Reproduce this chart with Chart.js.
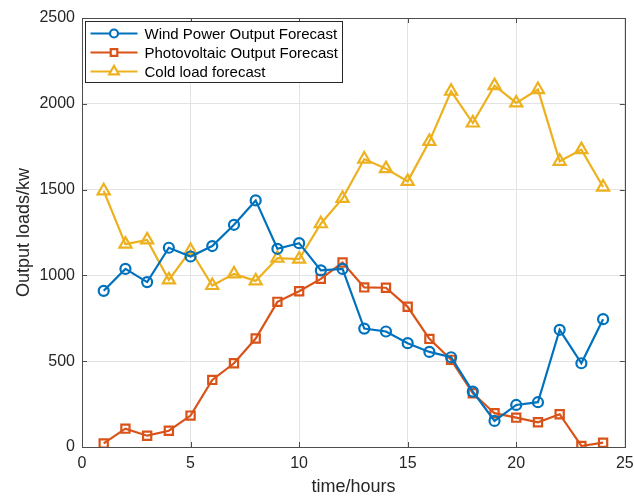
<!DOCTYPE html>
<html>
<head>
<meta charset="utf-8">
<script src="https://cdn.jsdelivr.net/npm/chart.js@4/dist/chart.umd.min.js"></script>
<style>
  html, body { margin: 0; padding: 0; background: #fff; }
  #wrap { width: 634px; height: 498px; }
</style>
</head>
<body>
<div id="wrap"><canvas id="chart" width="634" height="498"></canvas></div>
<script>
// values
const hours = [1, 2, 3, 4, 5, 6, 7, 8, 9, 10, 11, 12, 13, 14, 15, 16, 17, 18, 19, 20, 21, 22, 23, 24];
const windForecast = [910, 1038, 961, 1161, 1110, 1171, 1295, 1437, 1155, 1188, 1029, 1038, 690, 673, 605, 554, 523, 323, 152, 245, 261, 683, 488, 745];
const pvForecast = [21, 107, 66, 95, 183, 391, 488, 632, 846, 908, 980, 1075, 930, 928, 817, 630, 508, 313, 197, 171, 144, 191, 6, 25];
const coldLoad = [1493, 1182, 1207, 974, 1145, 941, 1009, 968, 1100, 1095, 1301, 1449, 1678, 1622, 1548, 1781, 2073, 1888, 2106, 2005, 2083, 1665, 1733, 1515];
const seriesNames = ['Wind Power Output Forecast', 'Photovoltaic Output Forecast', 'Cold load forecast'];
const xTicks = [0, 5, 10, 15, 20, 25];
const yTicks = [0, 500, 1000, 1500, 2000, 2500];

const FONT = '"Liberation Sans", Arial, Helvetica, sans-serif';
const AXIS_COLOR = '#4d4d4d';

const toPoints = (vals) => hours.map((h, i) => ({ x: h, y: vals[i] }));

const makeSet = (label, vals, color, style, radius) => ({
  label,
  data: toPoints(vals),
  borderColor: color,
  backgroundColor: 'rgba(0,0,0,0)',
  borderWidth: 2.2,
  pointStyle: style,
  pointRadius: radius,
  pointHoverRadius: radius,
  pointBorderWidth: 2.2,
  pointBorderColor: color,
  pointBackgroundColor: 'rgba(0,0,0,0)',
  tension: 0,
  fill: false
});

// box around plot area with inward ticks (matlab style)
const boxPlugin = {
  id: 'box',
  afterDatasetsDraw(chart) {
    const { ctx, chartArea: a, scales } = chart;
    ctx.save();
    ctx.strokeStyle = AXIS_COLOR;
    ctx.lineWidth = 1;
    ctx.strokeRect(Math.round(a.left) + 0.5, Math.round(a.top) + 0.5,
      Math.round(a.right - a.left), Math.round(a.bottom - a.top));
    const t = 5;
    ctx.beginPath();
    xTicks.forEach(v => {
      const x = Math.round(scales.x.getPixelForValue(v)) + 0.5;
      ctx.moveTo(x, a.bottom); ctx.lineTo(x, a.bottom - t);
      ctx.moveTo(x, a.top); ctx.lineTo(x, a.top + t);
    });
    yTicks.forEach(v => {
      const y = Math.round(scales.y.getPixelForValue(v)) + 0.5;
      ctx.moveTo(a.left, y); ctx.lineTo(a.left + t, y);
      ctx.moveTo(a.right, y); ctx.lineTo(a.right - t, y);
    });
    ctx.stroke();
    ctx.restore();
  }
};

// legend drawn inside the top-left corner
const legendPlugin = {
  id: 'insideLegend',
  afterDraw(chart) {
    const { ctx, chartArea: a } = chart;
    const x0 = Math.round(a.left) + 3.5, y0 = Math.round(a.top) + 3.5;
    const w = 257, h = 61, rowH = 19;
    ctx.save();
    ctx.fillStyle = '#fff';
    ctx.fillRect(x0, y0, w, h);
    ctx.strokeStyle = '#262626';
    ctx.lineWidth = 1;
    ctx.strokeRect(x0, y0, w, h);
    ctx.font = '15px ' + FONT;
    ctx.textBaseline = 'middle';
    chart.data.datasets.forEach((ds, i) => {
      const cy = y0 + 12 + i * rowH;
      ctx.strokeStyle = ds.borderColor;
      ctx.lineWidth = 2.2;
      ctx.beginPath();
      ctx.moveTo(x0 + 5, cy);
      ctx.lineTo(x0 + 52, cy);
      ctx.stroke();
      ctx.fillStyle = '#fff';
      Chart.helpers.drawPoint(ctx, {
        pointStyle: ds.pointStyle, rotation: 0, radius: ds.pointRadius * 0.8, borderWidth: 2
      }, x0 + 28.5, cy);
      ctx.fillStyle = '#000';
      ctx.fillText(ds.label, x0 + 59, cy + 1);
    });
    ctx.restore();
  }
};

new Chart(document.getElementById('chart'), {
  type: 'line',
  data: {
    datasets: [
      makeSet(seriesNames[0], windForecast, '#0072BD', 'circle', 5),
      makeSet(seriesNames[1], pvForecast, '#D95319', 'rect', 5.8),
      makeSet(seriesNames[2], coldLoad, '#EDB120', 'triangle', 7)
    ]
  },
  options: {
    responsive: false,
    animation: false,
    devicePixelRatio: 1,
    layout: { padding: { top: 18, right: 9, left: 0, bottom: 0 } },
    plugins: {
      legend: { display: false },
      tooltip: { enabled: false }
    },
    scales: {
      x: {
        type: 'linear',
        min: 0,
        max: 25,
        afterFit: (s) => { s.height = 51; s.paddingLeft = 0; s.paddingRight = 0; },
        afterBuildTicks: (s) => { s.ticks = xTicks.map(v => ({ value: v })); },
        ticks: { color: '#262626', font: { family: FONT, size: 16 }, padding: 7, maxRotation: 0, callback: (v) => String(v) },
        grid: { color: '#e3e3e3', drawTicks: false },
        border: { display: false },
        title: { display: true, text: 'time/hours', color: '#262626', font: { family: FONT, size: 18 }, padding: { top: 0, bottom: 0 } }
      },
      y: {
        min: 0,
        max: 2500,
        afterFit: (s) => { s.width = 82; },
        afterBuildTicks: (s) => { s.ticks = yTicks.map(v => ({ value: v })); },
        ticks: { color: '#262626', font: { family: FONT, size: 16 }, padding: 7, callback: (v) => String(v) },
        grid: { color: '#e3e3e3', drawTicks: false },
        border: { display: false },
        title: { display: true, text: 'Output loads/kw', color: '#262626', font: { family: FONT, size: 18 }, padding: { top: 13, bottom: 0 } }
      }
    }
  },
  plugins: [boxPlugin, legendPlugin]
});
</script>
</body>
</html>
